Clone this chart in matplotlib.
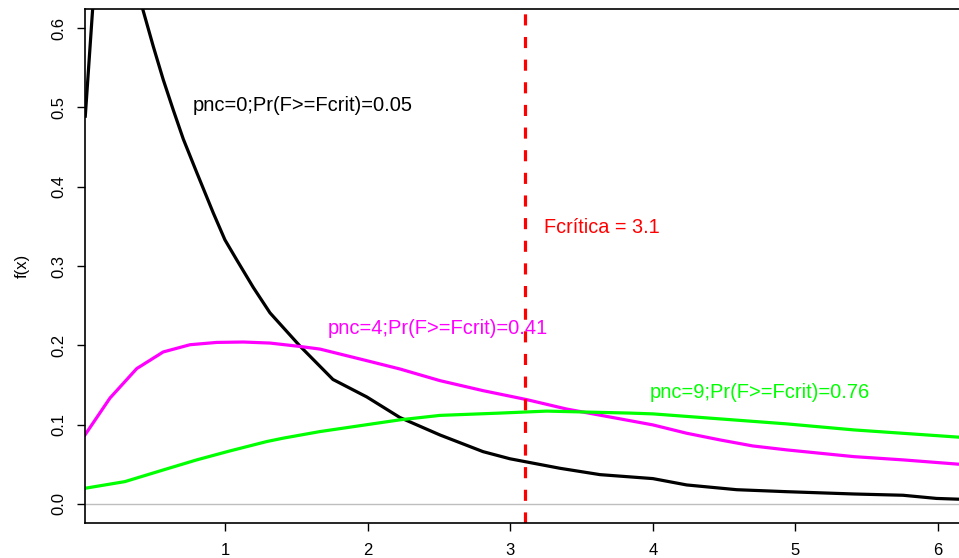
import matplotlib.pyplot as plt
import numpy as np

plt.rcParams['font.family'] = ['Liberation Sans', 'DejaVu Sans']
plt.rcParams['lines.scale_dashes'] = False

# central F density (pnc = 0)
x_c = [0.017, 0.069, 0.15, 0.25, 0.33, 0.42, 0.494, 0.564, 0.634, 0.705, 0.799, 0.915,
       0.997, 1.079, 1.196, 1.313, 1.524, 1.755, 1.992, 2.225, 2.506, 2.808, 2.997,
       3.348, 3.629, 4.0, 4.237, 4.588, 4.939, 5.41, 5.755, 5.99, 6.15]
y_c = [0.489, 0.625, 0.69, 0.71, 0.70, 0.624, 0.577, 0.535, 0.497, 0.460, 0.418, 0.367,
       0.333, 0.308, 0.273, 0.241, 0.199, 0.157, 0.135, 0.109, 0.087, 0.066, 0.057,
       0.045, 0.037, 0.032, 0.024, 0.018, 0.0155, 0.0126, 0.011, 0.007, 0.006]

# non-central, pnc = 4
x_4 = [0.015, 0.19, 0.378, 0.564, 0.752, 0.939, 1.126, 1.313, 1.524, 1.664, 1.992,
       2.225, 2.506, 2.808, 3.114, 3.395, 3.84, 4.0, 4.237, 4.47, 4.70, 4.939, 5.41,
       5.755, 6.15]
y_4 = [0.0871, 0.1335, 0.1707, 0.1917, 0.2008, 0.2037, 0.2042, 0.2029, 0.1986, 0.1953,
       0.1807, 0.1702, 0.1555, 0.1429, 0.1316, 0.1197, 0.1050, 0.0997, 0.0892, 0.0808,
       0.0732, 0.0682, 0.0597, 0.0556, 0.0501]

# non-central, pnc = 9
x_9 = [0.015, 0.295, 0.564, 0.799, 1.032, 1.29, 1.406, 1.664, 2.225, 2.506, 2.927,
       3.255, 3.84, 4.0, 4.47, 4.939, 5.41, 6.15]
y_9 = [0.0198, 0.0282, 0.0429, 0.0556, 0.0669, 0.0787, 0.083, 0.0913, 0.1061, 0.1117,
       0.1146, 0.1171, 0.1146, 0.1136, 0.1073, 0.1010, 0.0934, 0.0842]

f_crit = 3.1
labels = ['pnc=0;Pr(F>=Fcrit)=0.05', 'pnc=4;Pr(F>=Fcrit)=0.41', 'pnc=9;Pr(F>=Fcrit)=0.76']
label_xy = [(1.542, 0.5025), (2.488, 0.221), (4.749, 0.1405)]
colors = ['black', '#FF00FF', '#00FF00']

fig = plt.figure(figsize=(9.59, 5.58), dpi=100)
ax = fig.add_axes([0.0889, 0.0627, 0.9111, 0.9206])

ax.axhline(0, color='#BEBEBE', lw=1)
ax.plot(x_c, y_c, color=colors[0], lw=2.3)
ax.plot(x_4, y_4, color=colors[1], lw=2.3)
ax.plot(x_9, y_9, color=colors[2], lw=2.3)
ax.axvline(f_crit, color='#FF0000', lw=2.3, dashes=(8, 8.3))

for txt, (tx, ty), c in zip(labels, label_xy, colors):
    ax.text(tx, ty, txt, color=c, fontsize=14.5, ha='center', va='center')
ax.text(3.64, 0.3485, 'Fcrítica = ' + str(f_crit), color='#FF0000', fontsize=14.3,
        ha='center', va='center')

ax.set_xlim(0.0168, 6.148)
ax.set_ylim(-0.024, 0.6237)
ax.set_xticks([1, 2, 3, 4, 5, 6])
ax.set_yticks([0.0, 0.1, 0.2, 0.3, 0.4, 0.5, 0.6])
ax.set_yticklabels(['0.0', '0.1', '0.2', '0.3', '0.4', '0.5', '0.6'], rotation=90, va='center')
ax.tick_params(axis='both', length=5.5, width=1, labelsize=12)
ax.tick_params(axis='x', pad=9)
ax.tick_params(axis='y', pad=8)
ax.spines['right'].set_visible(False)
for s in ['left', 'top', 'bottom']:
    ax.spines[s].set_linewidth(1.2)

fig.text(22 / 959, 0.523, 'f(x)', rotation=90, ha='center', va='center', fontsize=12)

fig.savefig('out.png', dpi=100)
